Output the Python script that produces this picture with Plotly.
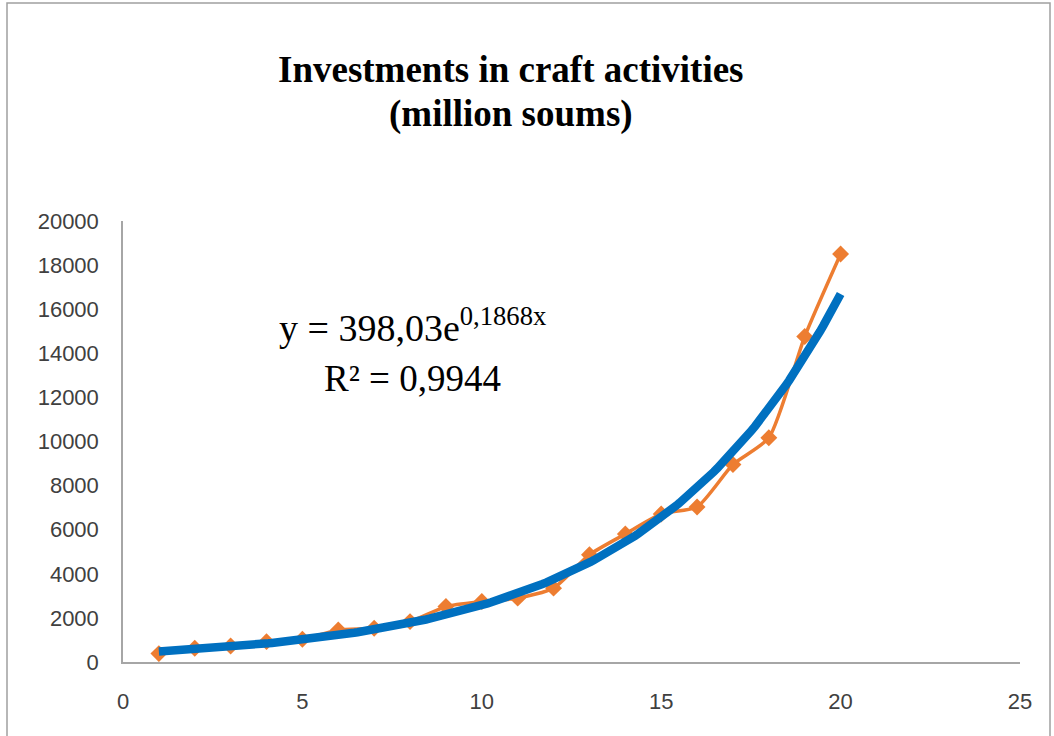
import numpy as np
import plotly.graph_objects as go

# ---- data ----
years = list(range(1, 21))
investments = [380, 623, 727, 923, 1032, 1455, 1532, 1832, 2514, 2741,
               2895, 3350, 4864, 5805, 6714, 7032, 8955, 10168, 14759, 18500]
# exponential trendline coefficients as displayed on the chart
TREND_A = 398.03
TREND_B = 0.1868
x_ticks = [0, 5, 10, 15, 20, 25]
y_ticks = list(range(0, 20001, 2000))

title_line1 = "<b>Investments in craft activities</b>"
title_line2 = "<b>(million soums)</b>"
eq_line1 = "y = 398,03e<sup>0,1868x</sup>"
eq_line2 = "R² = 0,9944"

# ---- layout constants ----
W, H = 1054, 736
L, R, T, B = 123, 34, 221, 74
pw, ph = W - L - R, H - T - B

def px_x(p):
    return (p - L) / pw

def px_y(p):
    return (H - B - p) / ph

trend_x = np.linspace(min(years), max(years), 200)
trend_y = TREND_A * np.exp(TREND_B * trend_x)

fig = go.Figure()
fig.add_trace(go.Scatter(
    x=years, y=investments, mode="lines+markers",
    line=dict(color="#ED7D31", width=3.5, shape="spline", smoothing=0.6),
    marker=dict(symbol="diamond", size=13, color="#ED7D31"),
    showlegend=False,
))
fig.add_trace(go.Scatter(
    x=trend_x, y=trend_y, mode="lines",
    line=dict(color="#0070C0", width=8.5),
    showlegend=False,
))

tick_font = dict(family="Liberation Sans", size=22, color="#404040")
serif = "Liberation Serif"

fig.update_layout(
    width=W, height=H,
    margin=dict(l=L, r=R, t=T, b=B, pad=0),
    paper_bgcolor="white", plot_bgcolor="white",
    xaxis=dict(
        range=[0, 25], tickvals=x_ticks, tickformat="d", showgrid=False, zeroline=False,
        showline=True, linecolor="#A6A6A6", linewidth=1.5,
        ticks="", tickfont=tick_font, ticklabelstandoff=19,
    ),
    yaxis=dict(
        range=[0, 20000], tickvals=y_ticks, tickformat="d", showgrid=False, zeroline=False,
        showline=True, linecolor="#A6A6A6", linewidth=1.5,
        ticks="", tickfont=tick_font, ticklabelstandoff=18,
    ),
    shapes=[dict(
        type="rect", xref="paper", yref="paper",
        x0=px_x(7), x1=px_x(1050), y0=px_y(745), y1=px_y(3),
        line=dict(color="#A0A0A0", width=1.5), fillcolor="rgba(0,0,0,0)", layer="below",
    )],
    annotations=[
        dict(text=title_line1, xref="paper", yref="paper", x=px_x(510), y=px_y(70),
             xanchor="center", yanchor="middle", showarrow=False,
             font=dict(family=serif, size=37, color="black")),
        dict(text=title_line2, xref="paper", yref="paper", x=px_x(511), y=px_y(114),
             xanchor="center", yanchor="middle", showarrow=False,
             font=dict(family=serif, size=37, color="black")),
        dict(text=eq_line1, xref="paper", yref="paper", x=px_x(412), y=px_y(325),
             xanchor="center", yanchor="middle", showarrow=False,
             font=dict(family=serif, size=38, color="black")),
        dict(text=eq_line2, xref="paper", yref="paper", x=px_x(412), y=px_y(378),
             xanchor="center", yanchor="middle", showarrow=False,
             font=dict(family=serif, size=37, color="black")),
    ],
)

fig.write_html(
    "out.html",
    config={"displayModeBar": False},
    post_script="document.body.style.margin='0';document.body.style.overflow='hidden';",
)
